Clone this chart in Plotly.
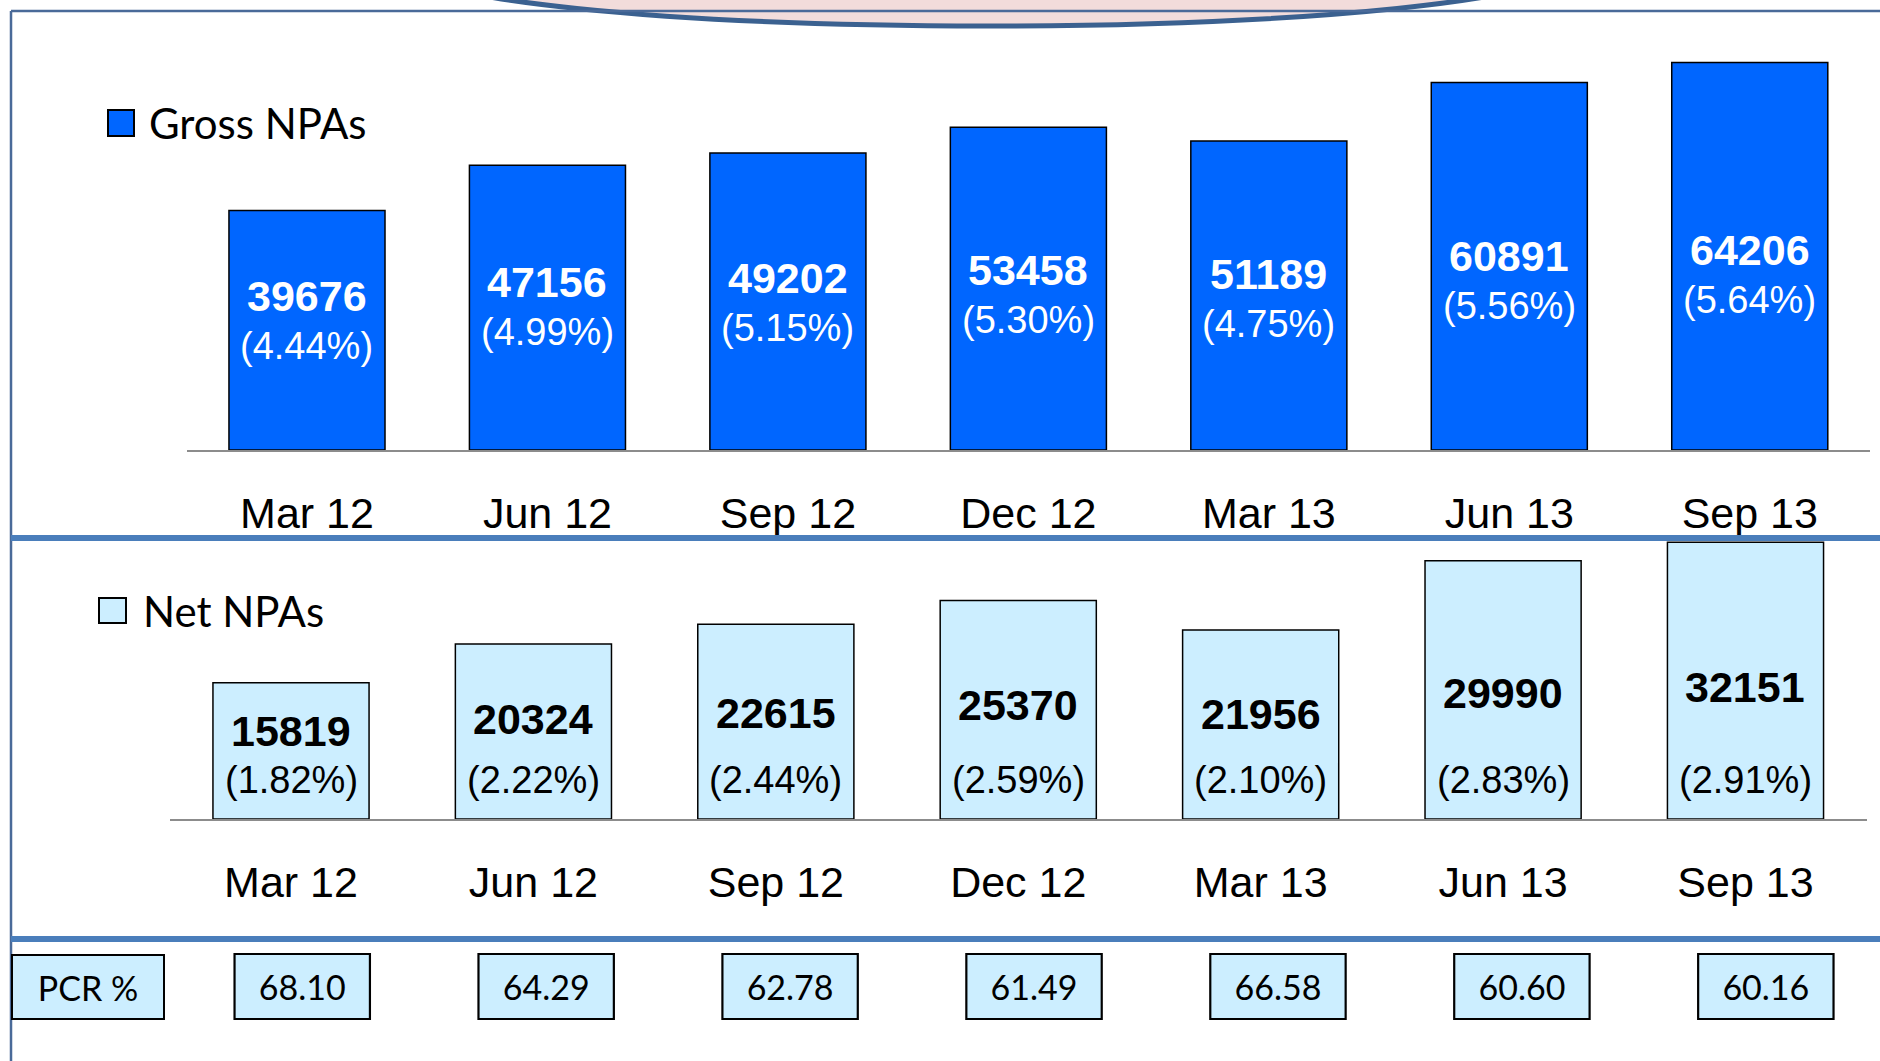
import plotly.graph_objects as go

# ---------------- data ----------------
periods = ["Mar 12", "Jun 12", "Sep 12", "Dec 12", "Mar 13", "Jun 13", "Sep 13"]
gross_npa = [39676, 47156, 49202, 53458, 51189, 60891, 64206]
gross_pct = ["4.44%", "4.99%", "5.15%", "5.30%", "4.75%", "5.56%", "5.64%"]
net_npa = [15819, 20324, 22615, 25370, 21956, 29990, 32151]
net_pct = ["1.82%", "2.22%", "2.44%", "2.59%", "2.10%", "2.83%", "2.91%"]
pcr = [68.10, 64.29, 62.78, 61.49, 66.58, 60.60, 60.16]

# ---------------- styling ----------------
W, H = 1880, 1061
ARIAL = "Liberation Sans, Arial, sans-serif"
CALIBRI = "Lato, Carlito, Calibri, sans-serif"
GROSS_BLUE = "#0066ff"
NET_BLUE = "#cceeff"
SEP_BLUE = "#4a7ebb"
FRAME_BLUE = "#4a6a99"
LABEL_FRAC = 0.31   # value labels sit at this fraction of the bar plus a pixel shift


def px(x):
    return x / W


def py(y):
    return 1 - y / H


fig = go.Figure()

fig.add_trace(go.Bar(
    x=periods, y=gross_npa, xaxis="x", yaxis="y",
    marker=dict(color=GROSS_BLUE, line=dict(color="black", width=1.5)),
    width=0.649, hoverinfo="skip", showlegend=False,
))
fig.add_trace(go.Bar(
    x=periods, y=net_npa, xaxis="x2", yaxis="y2",
    marker=dict(color=NET_BLUE, line=dict(color="black", width=1.5)),
    width=0.644, hoverinfo="skip", showlegend=False,
))
fig.add_trace(go.Bar(
    x=periods, y=[1] * len(periods), xaxis="x3", yaxis="y3",
    marker=dict(color=NET_BLUE, line=dict(color="black", width=2.2)),
    width=0.555, hoverinfo="skip", showlegend=False,
    text=[f"{v:.2f}" for v in pcr], textposition="inside",
    insidetextanchor="middle", constraintext="none",
    textfont=dict(family=CALIBRI, size=34, color="black"),
))

annotations = []
for p, v, pc in zip(periods, gross_npa, gross_pct):
    annotations.append(dict(x=p, y=v * LABEL_FRAC, xref="x", yref="y", text=f"<b>{v}</b>",
                            showarrow=False, yshift=80,
                            font=dict(family=ARIAL, size=43, color="white")))
    annotations.append(dict(x=p, y=v * LABEL_FRAC, xref="x", yref="y", text=f"({pc})",
                            showarrow=False, yshift=30,
                            font=dict(family=ARIAL, size=38, color="white")))
for p, v, pc in zip(periods, net_npa, net_pct):
    annotations.append(dict(x=p, y=v * LABEL_FRAC, xref="x2", yref="y2", text=f"<b>{v}</b>",
                            showarrow=False, yshift=46,
                            font=dict(family=ARIAL, size=43, color="black")))
    annotations.append(dict(x=p, y=0, xref="x2", yref="y2", text=f"({pc})",
                            showarrow=False, yshift=39,
                            font=dict(family=ARIAL, size=38, color="black")))

# legends (text part)
annotations.append(dict(x=px(147), y=py(123), xref="paper", yref="paper",
                        xanchor="left", yanchor="middle", text="Gross NPAs",
                        showarrow=False, font=dict(family=CALIBRI, size=42, color="black")))
annotations.append(dict(x=px(141), y=py(611), xref="paper", yref="paper",
                        xanchor="left", yanchor="middle", text="Net NPAs",
                        showarrow=False, font=dict(family=CALIBRI, size=42, color="black")))
# PCR header box
annotations.append(dict(x=px(88), y=py(987), xref="paper", yref="paper",
                        xanchor="center", yanchor="middle", text="PCR %",
                        showarrow=False, width=150, height=62, borderpad=0,
                        bgcolor=NET_BLUE, bordercolor="black", borderwidth=2,
                        font=dict(family=CALIBRI, size=34, color="black")))

shapes = [
    # callout ellipse at top (cut off)
    dict(type="circle", xref="paper", yref="paper",
         x0=px(987 - 580), x1=px(987 + 580), y0=py(26), y1=py(-94),
         fillcolor="#f2dcdb", line=dict(color="#3b6190", width=5), layer="below"),
    # frame
    dict(type="line", xref="paper", yref="paper", x0=px(11), x1=1, y0=py(11), y1=py(11),
         line=dict(color=FRAME_BLUE, width=2.5)),
    dict(type="line", xref="paper", yref="paper", x0=px(11), x1=px(11), y0=py(11), y1=0,
         line=dict(color=FRAME_BLUE, width=2.5)),
    # separators
    dict(type="line", xref="paper", yref="paper", x0=px(11), x1=1, y0=py(538), y1=py(538),
         line=dict(color=SEP_BLUE, width=6)),
    dict(type="line", xref="paper", yref="paper", x0=px(11), x1=1, y0=py(939), y1=py(939),
         line=dict(color=SEP_BLUE, width=6)),
    # legend swatches
    dict(type="rect", xref="paper", yref="paper", x0=px(108), x1=px(134), y0=py(136), y1=py(110),
         fillcolor=GROSS_BLUE, line=dict(color="black", width=2)),
    dict(type="rect", xref="paper", yref="paper", x0=px(99), x1=px(126), y0=py(623), y1=py(598),
         fillcolor=NET_BLUE, line=dict(color="black", width=2)),
]

axis_common = dict(type="category", categoryorder="array", categoryarray=periods,
                   showgrid=False, zeroline=False, ticks="", automargin=False,
                   tickfont=dict(family=ARIAL, size=43, color="black"))

fig.update_layout(
    width=W, height=H,
    margin=dict(l=0, r=0, t=0, b=0),
    paper_bgcolor="white", plot_bgcolor="rgba(0,0,0,0)",
    barmode="overlay",
    xaxis=dict(domain=[px(186.75), px(1870)], range=[-0.5, 6.5], anchor="y",
               showline=True, linecolor="#8c8c8c", linewidth=2,
               ticklabelstandoff=24, **axis_common),
    yaxis=dict(domain=[py(450), py(40)], range=[0, 410 * 165.66], visible=False,
               anchor="x", fixedrange=True),
    xaxis2=dict(domain=[px(169.8), px(1866.7)], range=[-0.5, 6.5], anchor="y2",
                showline=True, linecolor="#8c8c8c", linewidth=2,
                ticklabelstandoff=24, **axis_common),
    yaxis2=dict(domain=[py(819), py(541)], range=[0, 278 * 116.13], visible=False,
                anchor="x2"),
    xaxis3=dict(domain=[0, 1], range=[-1.239, 6.468], anchor="y3", visible=False,
                type="category", categoryorder="array", categoryarray=periods),
    yaxis3=dict(domain=[py(1030), py(944)], range=[-0.169, 1.154], visible=False,
                anchor="x3"),
    annotations=annotations,
    shapes=shapes,
)

fig.write_html(
    "out.html",
    config={"displayModeBar": False, "staticPlot": True},
    post_script="document.body.style.margin='0px';document.body.style.padding='0px';"
                "document.body.style.overflow='hidden';",
)
